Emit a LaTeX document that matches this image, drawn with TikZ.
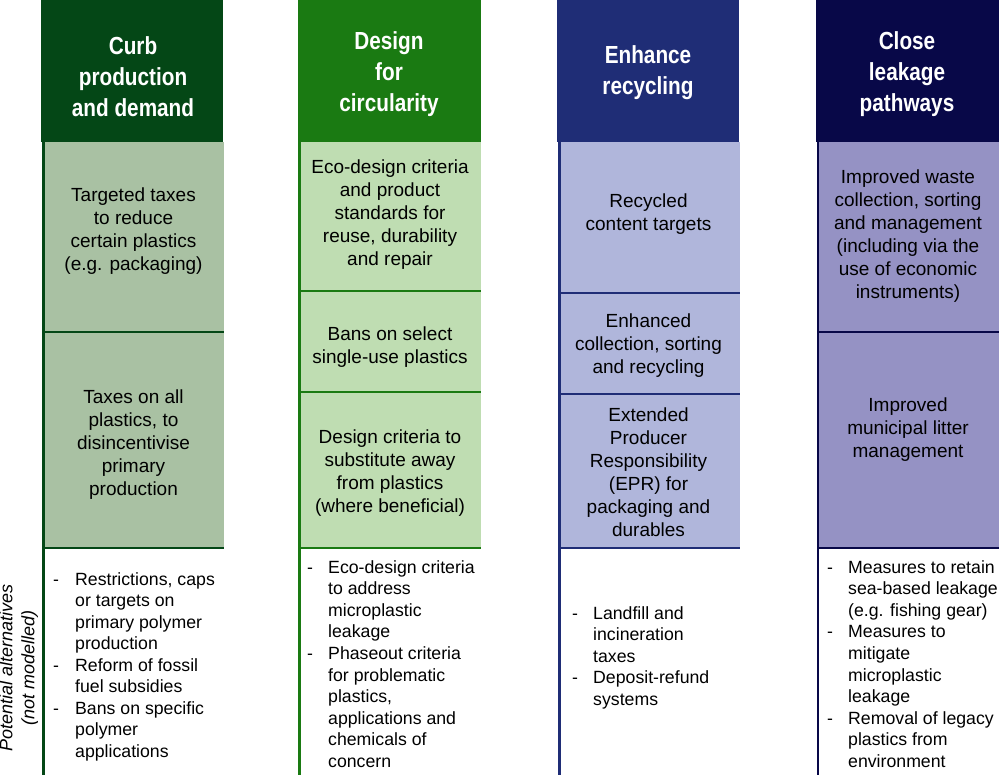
\documentclass[tikz,border=0pt]{standalone}
\usepackage{fontspec}
\setmainfont{Liberation Sans}
\newfontfamily\hdrfont{Liberation Sans}[FakeStretch=0.84]
\usetikzlibrary{fit}
\definecolor{cAd}{RGB}{4,71,22}
\definecolor{cAl}{RGB}{169,193,163}
\definecolor{cBd}{RGB}{26,122,18}
\definecolor{cBl}{RGB}{191,221,178}
\definecolor{cCd}{RGB}{31,45,118}
\definecolor{cCl}{RGB}{176,182,219}
\definecolor{cDd}{RGB}{8,8,72}
\definecolor{cDl}{RGB}{149,146,196}
\begin{document}
\begin{tikzpicture}[x=1pt,y=-1pt,
  panel/.style={inner sep=0pt,outer sep=0pt,draw=none},
  hdrtext/.style={text=white,font=\hdrfont\bfseries\fontsize{24.7}{31}\selectfont,anchor=base,inner sep=0pt},
  bodytext/.style={text=black,font=\fontsize{19}{23}\selectfont,anchor=base,inner sep=0pt},
  listtext/.style={text=black,font=\fontsize{17.7}{21.55}\selectfont,anchor=base west,inner sep=0pt},
  sidetext/.style={text=black,font=\itshape\fontsize{18}{22}\selectfont,rotate=90,inner sep=0pt},
  vline/.style={line width=2.4pt},
  sepline/.style={line width=2.3pt}]
\useasboundingbox (0,0) rectangle (1000,775);
\fill[white] (0,0) rectangle (1000,775);

% light boxes
\node[panel,fill=cAl,fit={(43.5,142.5) (224,332)}] (b11) {};
\node[panel,fill=cAl,fit={(43.5,332) (224,548)}] (b12) {};
\node[panel,fill=cBl,fit={(299.5,142.5) (481,291)}] (b21) {};
\node[panel,fill=cBl,fit={(299.5,291) (481,392)}] (b22) {};
\node[panel,fill=cBl,fit={(299.5,392) (481,548)}] (b23) {};
\node[panel,fill=cCl,fit={(559.5,142.5) (740,293)}] (b31) {};
\node[panel,fill=cCl,fit={(559.5,293) (740,394)}] (b32) {};
\node[panel,fill=cCl,fit={(559.5,394) (740,548)}] (b33) {};
\node[panel,fill=cDl,fit={(818,142.5) (999,332)}] (b41) {};
\node[panel,fill=cDl,fit={(818,332) (999,548)}] (b42) {};

% vertical column lines
\coordinate (v1a) at (43.5,97);  \coordinate (v1b) at (43.5,775);
\coordinate (v2a) at (299.5,97); \coordinate (v2b) at (299.5,775);
\coordinate (v3a) at (559.5,97); \coordinate (v3b) at (559.5,775);
\coordinate (v4a) at (818,97);   \coordinate (v4b) at (818,775);
\draw[vline,cAd] (v1a) -- (v1b);
\draw[vline,cBd] (v2a) -- (v2b);
\draw[vline,cCd] (v3a) -- (v3b);
\draw[vline,cDd] (v4a) -- (v4b);

% separators
\draw[sepline,cAd] (b11.south west) -- (b11.south east);
\draw[sepline,cAd] (b12.south west) -- (b12.south east);
\draw[sepline,cBd] (b21.south west) -- (b21.south east);
\draw[sepline,cBd] (b22.south west) -- (b22.south east);
\draw[sepline,cBd] (b23.south west) -- (b23.south east);
\draw[sepline,cCd] (b31.south west) -- (b31.south east);
\draw[sepline,cCd] (b32.south west) -- (b32.south east);
\draw[sepline,cCd] (b33.south west) -- (b33.south east);
\draw[sepline,cDd] (b41.south west) -- (b41.south east);
\draw[sepline,cDd] (b42.south west) -- (b42.south east);

% headers
\node[panel,fill=cAd,fit={(41,0) (223,142.5)}] (h1) {};
\node[panel,fill=cBd,fit={(298,0) (481,142.5)}] (h2) {};
\node[panel,fill=cCd,fit={(557,0) (739,142.5)}] (h3) {};
\node[panel,fill=cDd,fit={(816,0) (999,142.5)}] (h4) {};
\node[hdrtext] (h1t) at (133,55) {\begin{tabular}[t]{@{}c@{}}Curb\\production\\and demand\end{tabular}};
\node[hdrtext] (h2t) at (389,50) {\begin{tabular}[t]{@{}c@{}}Design\\for\\circularity\end{tabular}};
\node[hdrtext] (h3t) at (648,63.5) {\begin{tabular}[t]{@{}c@{}}Enhance\\recycling\end{tabular}};
\node[hdrtext] (h4t) at (907,49.5) {\begin{tabular}[t]{@{}c@{}}Close\\leakage\\pathways\end{tabular}};

% box texts
\node[bodytext] (t11) at (133.5,201.5) {\begin{tabular}[t]{@{}c@{}}Targeted taxes\\to reduce\\certain plastics\\(e.g. packaging)\end{tabular}};
\node[bodytext] (t12) at (133.5,403) {\begin{tabular}[t]{@{}c@{}}Taxes on all\\plastics, to\\disincentivise\\primary\\production\end{tabular}};
\node[bodytext] (t21) at (390,173.5) {\begin{tabular}[t]{@{}c@{}}Eco-design criteria\\and product\\standards for\\reuse, durability\\and repair\end{tabular}};
\node[bodytext] (t22) at (390,340.3) {\begin{tabular}[t]{@{}c@{}}Bans on select\\single-use plastics\end{tabular}};
\node[bodytext] (t23) at (390,443) {\begin{tabular}[t]{@{}c@{}}Design criteria to\\substitute away\\from plastics\\(where beneficial)\end{tabular}};
\node[bodytext] (t31) at (648.5,208) {\begin{tabular}[t]{@{}c@{}}Recycled\\content targets\end{tabular}};
\node[bodytext] (t32) at (648.5,327) {\begin{tabular}[t]{@{}c@{}}Enhanced\\collection, sorting\\and recycling\end{tabular}};
\node[bodytext] (t33) at (648.5,421.5) {\begin{tabular}[t]{@{}c@{}}Extended\\Producer\\Responsibility\\(EPR) for\\packaging and\\durables\end{tabular}};
\node[bodytext] (t41) at (908,184) {\begin{tabular}[t]{@{}c@{}}Improved waste\\collection, sorting\\and management\\(including via the\\use of economic\\instruments)\end{tabular}};
\node[bodytext] (t42) at (908,411) {\begin{tabular}[t]{@{}c@{}}Improved\\municipal litter\\management\end{tabular}};

% lists
\node[listtext] (l1) at (53,585) {\begin{tabular}[t]{@{}p{22pt}@{}l@{}}
-&Restrictions, caps\\&or targets on\\&primary polymer\\&production\\
-&Reform of fossil\\&fuel subsidies\\
-&Bans on specific\\&polymer\\&applications\end{tabular}};
\node[listtext] (l2) at (307,573.3) {\begin{tabular}[t]{@{}p{21pt}@{}l@{}}
-&Eco-design criteria\\&to address\\&microplastic\\&leakage\\
-&Phaseout criteria\\&for problematic\\&plastics,\\&applications and\\&chemicals of\\&concern\end{tabular}};
\node[listtext] (l3) at (572,619.3) {\begin{tabular}[t]{@{}p{21pt}@{}l@{}}
-&Landfill and\\&incineration\\&taxes\\
-&Deposit-refund\\&systems\end{tabular}};
\node[listtext] (l4) at (827,573.3) {\begin{tabular}[t]{@{}p{21pt}@{}l@{}}
-&Measures to retain\\&sea-based leakage\\&(e.g. fishing gear)\\
-&Measures to\\&mitigate\\&microplastic\\&leakage\\
-&Removal of legacy\\&plastics from\\&environment\end{tabular}};

% side label
\node[sidetext] (side) at (19,668) {\begin{tabular}{@{}c@{}}Potential alternatives\\(not modelled)\end{tabular}};
\end{tikzpicture}
\end{document}
